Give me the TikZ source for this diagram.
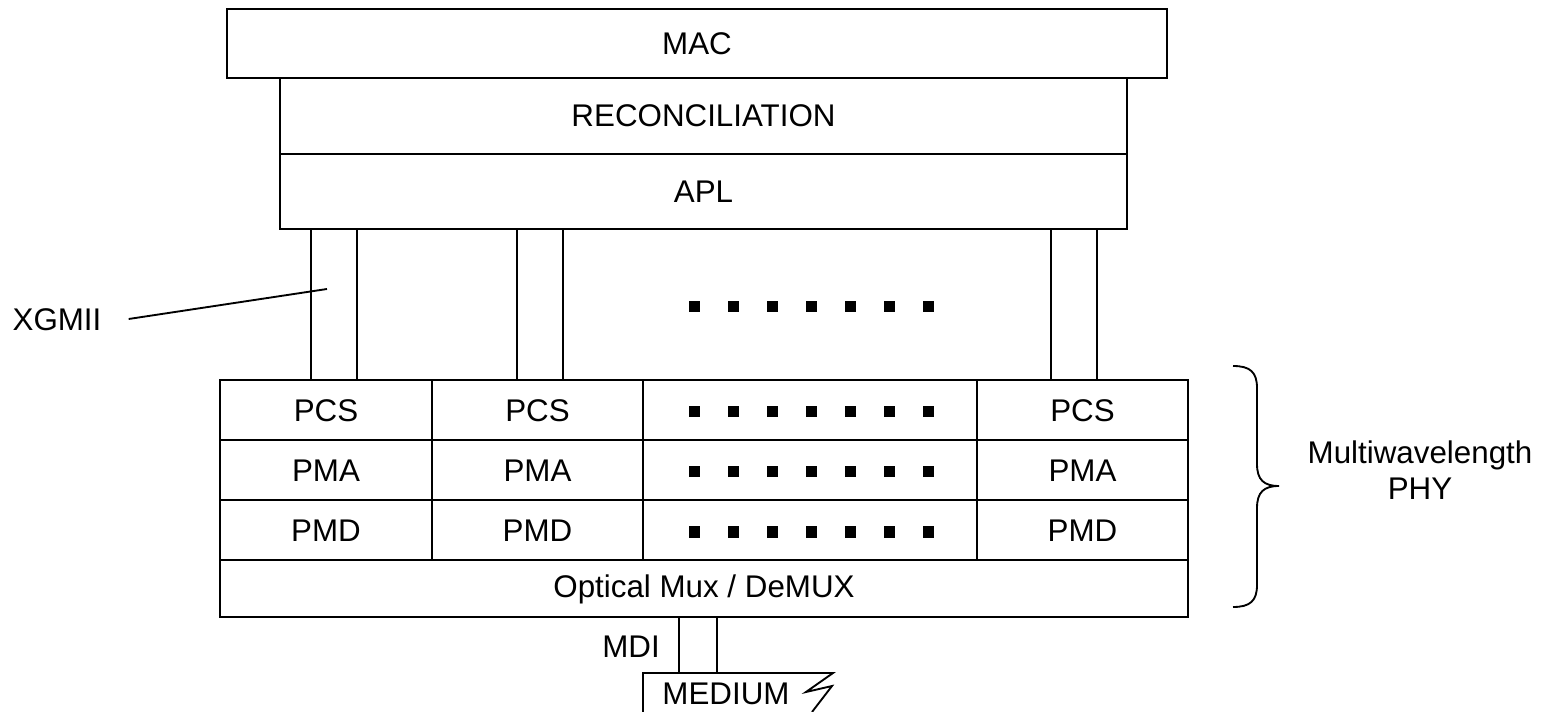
\documentclass[tikz,border=0pt]{standalone}
\usepackage{fontspec}
\setmainfont{Liberation Sans}
\usepackage{tikz}
\usetikzlibrary{positioning}

\tikzset{
  layer/.style={line width=1.4pt, line join=miter},
  lbl/.style={font=\fontsize{23.5}{27}\selectfont, inner sep=0pt},
  sq/.style={fill=black}
}

\begin{document}
\begin{tikzpicture}[x=0.75pt,y=0.75pt,yscale=-1,xscale=1]
\useasboundingbox (0,0) rectangle (1549,712);

%Shape: Rectangle [MAC]
\draw [layer] (227,9) rectangle (1167,78);
\node [lbl] (mac) at (697,43.5) {MAC};
%Shape: Rectangle [RECONCILIATION]
\draw [layer] (280,78) rectangle (1127,154);
\node [lbl] (rec) at (703.5,116) {RECONCILIATION};
%Shape: Rectangle [APL]
\draw [layer] (280,154) rectangle (1127,229);
\node [lbl] (apl) at (703.5,191.5) {APL};

%Shape: Rectangle [XGMII stubs]
\draw [layer] (311,229) rectangle (357,380);
\draw [layer] (517,229) rectangle (563,380);
\draw [layer] (1051,229) rectangle (1097,380);

%Shape: Rectangle [PHY block]
\draw [layer] (220,380) rectangle (1188,617);
\draw [layer] (220,440) -- (1188,440);
\draw [layer] (220,500) -- (1188,500);
\draw [layer] (220,560) -- (1188,560);
\foreach \xx in {432,643,977}
  \draw [layer] (\xx,380) -- (\xx,560);

%Text: sublayers
\node [lbl] (pcsa) at (326,411) {PCS};
\node [lbl] (pcsb) at (537.5,411) {PCS};
\node [lbl] (pcsc) at (1082.5,411) {PCS};
\node [lbl] (pmaa) at (326,471) {PMA};
\node [lbl] (pmab) at (537.5,471) {PMA};
\node [lbl] (pmac) at (1082.5,471) {PMA};
\node [lbl] (pmda) at (326,531) {PMD};
\node [lbl] (pmdb) at (537.5,531) {PMD};
\node [lbl] (pmdc) at (1082.5,531) {PMD};
\node [lbl] (omux) at (704,589) {Optical Mux / DeMUX};

%Shape: dots
\foreach \yy in {307,412,472,532}
  \foreach \k in {0,...,6}
    \fill [sq] (694+39*\k-5.5,\yy-5.5) rectangle ++(11,11);

%XGMII label
\node [lbl] (xgmii) at (57,320) {XGMII};
\coordinate (xgend) at (327,289);
\draw [line width=1.4pt] (xgmii.east) ++(27,-1) -- (xgend);

%Shape: MDI stub
\draw [layer] (679,617) rectangle (717,673);
\node [lbl, anchor=east] (mdi) at (660,647) {MDI};

%Shape: MEDIUM
\draw [layer] (643,712) -- (643,673) -- (833,673) -- (806,692) -- (832,686) -- (812,712);
\node [lbl] (medium) at (726,694) {MEDIUM};

%Shape: Brace
\draw [line width=1.4pt] (1233,366) .. controls (1250,366) and (1257,372) .. (1257,388) -- (1257,464) .. controls (1257,480) and (1264,486) .. (1279,486) .. controls (1264,486) and (1257,492) .. (1257,508) -- (1257,585) .. controls (1257,601) and (1250,607) .. (1233,607);
\node [lbl, align=center] (phy) at (1420,470) {Multiwavelength\\PHY};

\end{tikzpicture}
\end{document}
